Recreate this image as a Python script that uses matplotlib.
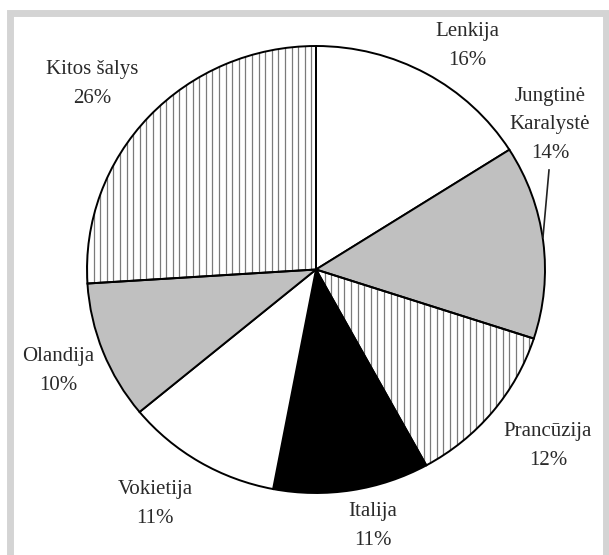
import matplotlib
matplotlib.use('Agg')
import numpy as np
import matplotlib.pyplot as plt
from matplotlib.patches import Rectangle

countries = ['Lenkija', 'Jungtinė\nKaralystė', 'Prancūzija', 'Italija',
             'Vokietija', 'Olandija', 'Kitos šalys']
shares = [16, 14, 12, 11, 11, 10, 26]
fills = ['white', '#c0c0c0', 'none', 'black', 'white', '#c0c0c0', 'none']
striped = [False, False, True, False, False, False, True]

# label centres in pixels (x, y from top)
label_pos = [(467, 46), (550, 125), (548, 446), (373, 526),
             (155, 504), (58, 371), (92, 84)]

W, H = 609, 555
cx, cy, rx, ry = 316, 269.5, 229, 223.5   # pie centre / radii in px

fig = plt.figure(figsize=(W / 100, H / 100), dpi=100)
ax = fig.add_axes([0, 0, 1, 1])

wedges, _ = ax.pie(shares, colors=fills, startangle=90, counterclock=False,
                   wedgeprops=dict(edgecolor='black', linewidth=1.4))

# vertical stripes clipped to the striped wedges (drawn under the edges)
step = 6.6 / rx
for w, s in zip(wedges, striped):
    if s:
        xs = np.arange(-1, 1, step)
        lc = ax.vlines(xs, -1, 1, colors='#7a7a7a', linewidth=0.9,
                       zorder=w.get_zorder() - 0.1)
        lc.set_clip_path(w)

ax.set_aspect('auto')
ax.set_xlim(-cx / rx, (W - cx) / rx)
ax.set_ylim(-(H - cy) / ry, cy / ry)
ax.axis('off')

# grey frame around the chart
fig.patches.append(Rectangle((9.5 / W, -0.02), 596 / W, 1 - 12.5 / H + 0.02,
                             transform=fig.transFigure, fill=False,
                             edgecolor='#d4d4d4', linewidth=5))

for name, val, (x, y) in zip(countries, shares, label_pos):
    fig.text(x / W, 1 - y / H, f'{name}\n{val}%', ha='center', va='center',
             fontsize=15, family='Liberation Serif', color='#2a2a2a',
             linespacing=1.7)

# leader line for Jungtinė Karalystė
fig.add_artist(plt.Line2D([549 / W, 543 / W], [1 - 170 / H, 1 - 237 / H],
                          transform=fig.transFigure, color='#222222', linewidth=1.2))

fig.savefig('out.png', dpi=100)
